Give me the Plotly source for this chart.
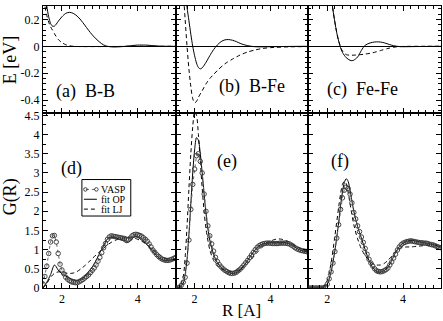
import numpy as np
import plotly.graph_objects as go
from plotly.subplots import make_subplots

# ---------------- data ----------------
# Top row: pair potentials E(R)
a_op_R = [1.5, 1.55, 1.6, 1.65, 1.7, 1.75, 1.8, 1.85, 1.9, 2.0, 2.1, 2.2, 2.3, 2.4, 2.5, 2.6, 2.7, 2.8, 2.9, 3.0, 3.1, 3.2, 3.3, 3.4, 3.6, 3.8, 4.0, 4.2, 4.4, 4.6, 4.8, 5.0]
a_op_E = [0.7, 0.45, 0.3, 0.22, 0.17, 0.15, 0.15, 0.165, 0.185, 0.22, 0.245, 0.253, 0.245, 0.225, 0.195, 0.158, 0.12, 0.085, 0.055, 0.03, 0.01, 0.0, -0.004, -0.005, -0.002, 0.004, 0.009, 0.009, 0.005, 0.001, 0.0, 0.0]
a_lj_R = [1.5, 1.55, 1.6, 1.65, 1.7, 1.75, 1.8, 1.85, 1.9, 2.0, 2.1, 2.2, 2.3, 2.5, 3.0, 3.5, 4.0, 5.0]
a_lj_E = [0.45, 0.3, 0.23, 0.18, 0.145, 0.12, 0.095, 0.072, 0.052, 0.027, 0.012, 0.004, 0.0, -0.002, -0.002, -0.001, 0.0, 0.0]

b_op_R = [1.5, 1.6, 1.7, 1.75, 1.8, 1.85, 1.9, 1.95, 2.0, 2.05, 2.1, 2.15, 2.2, 2.3, 2.4, 2.5, 2.6, 2.7, 2.8, 2.9, 3.0, 3.1, 3.2, 3.3, 3.4, 3.5, 3.6, 3.8, 4.0, 4.5, 5.0]
b_op_E = [1.6, 1.1, 0.6, 0.43, 0.29, 0.19, 0.09, 0.0, -0.07, -0.125, -0.158, -0.168, -0.16, -0.12, -0.07, -0.025, 0.01, 0.035, 0.048, 0.05, 0.045, 0.035, 0.022, 0.012, 0.005, 0.0, -0.003, -0.004, -0.003, -0.001, 0.0]
b_lj_R = [1.5, 1.6, 1.7, 1.75, 1.8, 1.85, 1.9, 1.95, 2.0, 2.05, 2.1, 2.2, 2.3, 2.4, 2.5, 2.6, 2.8, 3.0, 3.2, 3.4, 3.6, 3.8, 4.0, 4.5, 5.0]
b_lj_E = [1.6, 1.0, 0.42, 0.2, 0.0, -0.17, -0.3, -0.39, -0.42, -0.41, -0.38, -0.33, -0.28, -0.24, -0.21, -0.18, -0.13, -0.095, -0.065, -0.042, -0.027, -0.016, -0.01, -0.004, -0.002]

c_op_R = [1.5, 1.8, 2.0, 2.1, 2.15, 2.2, 2.25, 2.3, 2.35, 2.4, 2.5, 2.6, 2.65, 2.7, 2.8, 2.9, 3.0, 3.1, 3.2, 3.3, 3.4, 3.5, 3.6, 3.7, 3.8, 3.9, 4.0, 4.3, 4.6, 5.0]
c_op_E = [2.0, 1.2, 0.6, 0.37, 0.27, 0.18, 0.1, 0.04, -0.01, -0.045, -0.085, -0.104, -0.107, -0.103, -0.08, -0.03, 0.008, 0.022, 0.03, 0.033, 0.032, 0.026, 0.017, 0.008, 0.002, -0.002, -0.003, -0.002, -0.001, 0.0]
c_lj_R = [1.5, 1.8, 2.0, 2.1, 2.2, 2.3, 2.4, 2.5, 2.6, 2.7, 2.8, 3.0, 3.2, 3.4, 3.6, 3.8, 4.0, 4.5, 5.0]
c_lj_E = [2.0, 1.2, 0.6, 0.37, 0.18, 0.04, -0.035, -0.062, -0.066, -0.066, -0.064, -0.058, -0.048, -0.032, -0.016, -0.005, -0.001, 0.0, 0.0]

# Bottom row: pair correlation G(R)
vasp_R = list(np.round(np.arange(1.5, 5.001, 0.05), 2))
d_vasp = [0.10, 0.30, 0.57, 0.90, 1.20, 1.36, 1.37, 1.20, 0.90, 0.62,
          0.47, 0.37, 0.28, 0.23, 0.19, 0.16, 0.15, 0.14, 0.14, 0.16,
          0.19, 0.22, 0.26, 0.30, 0.34, 0.40, 0.46, 0.52, 0.60, 0.70,
          0.80, 0.92, 1.05, 1.16, 1.27, 1.33, 1.36, 1.35, 1.34, 1.33,
          1.32, 1.31, 1.30, 1.29, 1.27, 1.26, 1.30, 1.36, 1.39, 1.40,
          1.39, 1.37, 1.35, 1.31, 1.27, 1.22, 1.15, 1.07, 0.99, 0.93,
          0.87, 0.82, 0.78, 0.75, 0.73, 0.72, 0.72, 0.73, 0.75, 0.77,
          0.80]
e_vasp = [0.00, 0.00, 0.02, 0.07, 0.15, 0.28, 0.65, 1.25, 2.05, 2.70,
          3.10, 3.45, 3.50, 3.30, 3.00, 2.45, 2.00, 1.62, 1.36, 1.15,
          0.96, 0.80, 0.69, 0.61, 0.55, 0.50, 0.46, 0.43, 0.40, 0.38,
          0.38, 0.39, 0.41, 0.45, 0.49, 0.54, 0.60, 0.66, 0.72, 0.79,
          0.86, 0.93, 1.00, 1.06, 1.10, 1.13, 1.15, 1.16, 1.17, 1.17,
          1.17, 1.16, 1.16, 1.16, 1.16, 1.17, 1.17, 1.17, 1.17, 1.16,
          1.15, 1.12, 1.09, 1.05, 1.02, 1.00, 0.98, 0.97, 0.96, 0.95,
          0.94]
f_vasp = [0.00, 0.00, 0.00, 0.00, 0.00, 0.00, 0.00, 0.00, 0.00, 0.03,
          0.10, 0.24, 0.42, 0.65, 0.95, 1.30, 1.65, 2.05, 2.35, 2.55,
          2.63, 2.59, 2.45, 2.22, 1.97, 1.80, 1.62, 1.47, 1.33, 1.19,
          1.03, 0.88, 0.75, 0.65, 0.57, 0.50, 0.45, 0.43, 0.42, 0.43,
          0.45, 0.48, 0.52, 0.60, 0.68, 0.78, 0.88, 0.99, 1.07, 1.13,
          1.17, 1.19, 1.21, 1.22, 1.23, 1.22, 1.21, 1.20, 1.19, 1.18,
          1.18, 1.17, 1.17, 1.16, 1.14, 1.13, 1.12, 1.10, 1.08, 1.06,
          1.05]

d_op_R = [1.5, 1.6, 1.7, 1.8, 1.85, 1.9, 2.0, 2.1, 2.2, 2.3, 2.4, 2.5, 2.6, 2.7, 2.8, 2.9, 3.0, 3.1, 3.2, 3.3, 3.4, 3.5, 3.6, 3.7, 3.8, 3.9, 4.0, 4.1, 4.2, 4.3, 4.4, 4.5, 4.6, 4.7, 4.8, 4.9, 5.0]
d_op_G = [0.0, 0.15, 0.35, 0.6, 0.55, 0.47, 0.37, 0.31, 0.26, 0.22, 0.2, 0.22, 0.3, 0.42, 0.55, 0.72, 0.92, 1.1, 1.28, 1.33, 1.31, 1.28, 1.24, 1.18, 1.22, 1.33, 1.32, 1.25, 1.17, 1.07, 0.95, 0.84, 0.76, 0.72, 0.72, 0.74, 0.77]
d_lj_R = [1.5, 1.6, 1.7, 1.8, 1.9, 2.0, 2.1, 2.2, 2.3, 2.4, 2.5, 2.6, 2.7, 2.8, 2.9, 3.0, 3.1, 3.2, 3.3, 3.4, 3.5, 3.6, 3.7, 3.8, 3.9, 4.0, 4.1, 4.2, 4.3, 4.4, 4.5, 4.6, 4.7, 4.8, 4.9, 5.0]
d_lj_G = [0.0, 0.12, 0.28, 0.38, 0.42, 0.41, 0.39, 0.38, 0.39, 0.43, 0.5, 0.58, 0.67, 0.77, 0.86, 0.95, 1.04, 1.12, 1.19, 1.24, 1.28, 1.3, 1.31, 1.31, 1.3, 1.27, 1.22, 1.16, 1.08, 1.0, 0.92, 0.85, 0.79, 0.75, 0.73, 0.72]

e_op_R = [1.5, 1.6, 1.7, 1.75, 1.8, 1.85, 1.9, 1.95, 2.0, 2.05, 2.1, 2.15, 2.2, 2.25, 2.3, 2.35, 2.4, 2.5, 2.6, 2.7, 2.8, 2.9, 3.0, 3.1, 3.2, 3.3, 3.4, 3.5, 3.6, 3.7, 3.8, 3.9, 4.0, 4.2, 4.4, 4.5, 4.6, 4.7, 4.8, 4.9, 5.0]
e_op_G = [0.0, 0.01, 0.12, 0.35, 0.75, 1.4, 2.2, 3.0, 3.6, 3.92, 3.85, 3.5, 3.0, 2.45, 1.95, 1.55, 1.25, 0.88, 0.66, 0.53, 0.45, 0.4, 0.38, 0.4, 0.47, 0.58, 0.72, 0.87, 1.0, 1.1, 1.15, 1.17, 1.18, 1.18, 1.18, 1.16, 1.1, 1.03, 0.98, 0.96, 0.94]
e_lj_R = [1.5, 1.6, 1.7, 1.75, 1.8, 1.85, 1.9, 1.95, 2.0, 2.05, 2.1, 2.15, 2.2, 2.25, 2.3, 2.4, 2.5, 2.6, 2.7, 2.8, 2.9, 3.0, 3.1, 3.2, 3.3, 3.4, 3.5, 3.6, 3.7, 3.8, 3.9, 4.0, 4.1, 4.2, 4.3, 4.4, 4.5, 4.6, 4.7, 4.8, 4.9, 5.0]
e_lj_G = [0.0, 0.02, 0.3, 0.8, 1.6, 2.6, 3.5, 4.2, 4.6, 4.5, 4.0, 3.3, 2.6, 2.0, 1.55, 1.0, 0.72, 0.57, 0.5, 0.46, 0.44, 0.44, 0.46, 0.5, 0.56, 0.65, 0.75, 0.87, 0.98, 1.08, 1.16, 1.22, 1.26, 1.28, 1.27, 1.24, 1.2, 1.14, 1.08, 1.03, 0.99, 0.97]

f_op_R = [1.5, 1.8, 1.9, 2.0, 2.1, 2.2, 2.3, 2.35, 2.4, 2.45, 2.5, 2.55, 2.6, 2.7, 2.8, 2.9, 3.0, 3.1, 3.2, 3.3, 3.4, 3.5, 3.6, 3.7, 3.8, 3.9, 4.0, 4.1, 4.2, 4.3, 4.4, 4.5, 4.6, 4.7, 4.8, 4.9, 5.0]
f_op_G = [0.0, 0.0, 0.01, 0.1, 0.42, 0.98, 1.7, 2.15, 2.5, 2.75, 2.85, 2.78, 2.55, 2.0, 1.6, 1.3, 1.0, 0.72, 0.53, 0.43, 0.41, 0.45, 0.55, 0.72, 0.92, 1.08, 1.17, 1.22, 1.24, 1.23, 1.21, 1.19, 1.17, 1.15, 1.12, 1.09, 1.06]
f_lj_R = [1.5, 1.8, 1.9, 2.0, 2.1, 2.2, 2.3, 2.35, 2.4, 2.45, 2.5, 2.55, 2.6, 2.7, 2.8, 2.9, 3.0, 3.1, 3.2, 3.3, 3.4, 3.5, 3.6, 3.7, 3.8, 3.9, 4.0, 4.1, 4.2, 4.3, 4.4, 4.5, 4.6, 4.7, 4.8, 4.9, 5.0]
f_lj_G = [0.0, 0.0, 0.03, 0.2, 0.65, 1.35, 2.1, 2.45, 2.7, 2.78, 2.72, 2.5, 2.2, 1.65, 1.28, 1.02, 0.84, 0.72, 0.64, 0.6, 0.6, 0.64, 0.72, 0.83, 0.95, 1.03, 1.06, 1.07, 1.07, 1.08, 1.09, 1.1, 1.11, 1.12, 1.12, 1.11, 1.1]

x_tickvals = [2, 3, 4, 5]
x_ticktext = ["2", "", "4", ""]
e_tickvals = [-0.4, -0.2, 0.0, 0.2]
e_ticktext = ["-0.4", "-0.2", "0", "0.2"]
g_tickvals = [0, 0.5, 1, 1.5, 2, 2.5, 3, 3.5, 4, 4.5]
g_ticktext = ["0", "0.5", "1", "1.5", "2", "2.5", "3", "3.5", "4", "4.5"]

panel_labels = ["(a)\u00a0\u00a0B-B", "(b)\u00a0\u00a0B-Fe", "(c)\u00a0\u00a0Fe-Fe", "(d)", "(e)", "(f)"]
legend_names = ["VASP", "fit OP", "fit LJ"]

# ---------------- figure ----------------
W, H = 443, 321
ML, MR, MT, MB = 43, 1, 2, 33
PW, PH = W - ML - MR, H - MT - MB


def px(x):
    return (x - ML) / PW


def py(y):
    return (MT + PH - y) / PH


fig = make_subplots(rows=2, cols=3, row_heights=[109, 177],
                    horizontal_spacing=0, vertical_spacing=0)

FONT = "Liberation Serif, Times New Roman, DejaVu Serif, serif"
solid = dict(color="black", width=1)
dashed = dict(color="black", width=1, dash="4px,3px")

top = [(a_op_R, a_op_E, a_lj_R, a_lj_E), (b_op_R, b_op_E, b_lj_R, b_lj_E), (c_op_R, c_op_E, c_lj_R, c_lj_E)]
for i, (r1, e1, r2, e2) in enumerate(top):
    fig.add_trace(go.Scatter(x=r2, y=e2, mode="lines", line=dict(shape="spline", smoothing=0.8, **dashed),
                             showlegend=False, hoverinfo="skip"), row=1, col=i + 1)
    fig.add_trace(go.Scatter(x=r1, y=e1, mode="lines", line=dict(shape="spline", smoothing=0.8, **solid),
                             showlegend=False, hoverinfo="skip"), row=1, col=i + 1)

bottom = [(d_vasp, d_op_R, d_op_G, d_lj_R, d_lj_G), (e_vasp, e_op_R, e_op_G, e_lj_R, e_lj_G),
          (f_vasp, f_op_R, f_op_G, f_lj_R, f_lj_G)]
for i, (gv, r1, g1, r2, g2) in enumerate(bottom):
    fig.add_trace(go.Scatter(x=r2, y=g2, mode="lines", line=dict(shape="spline", smoothing=0.8, **dashed),
                             name=legend_names[2], showlegend=False, hoverinfo="skip"), row=2, col=i + 1)
    fig.add_trace(go.Scatter(x=r1, y=g1, mode="lines", line=dict(shape="spline", smoothing=0.8, **solid),
                             name=legend_names[1], showlegend=False, hoverinfo="skip"), row=2, col=i + 1)
    fig.add_trace(go.Scatter(x=vasp_R, y=gv, mode="lines+markers",
                             line=dict(color="#666", width=1, dash="dot"),
                             marker=dict(symbol="circle-open", size=4.5, color="#333", line=dict(width=0.9)),
                             name=legend_names[0], showlegend=False, hoverinfo="skip"), row=2, col=i + 1)

axis_common = dict(showline=True, linecolor="black", linewidth=1, mirror="allticks",
                   ticks="inside", ticklen=5, tickcolor="black", showgrid=False, zeroline=False,
                   tickfont=dict(family=FONT, size=12, color="black"))

for i in range(1, 7):
    row = 1 if i <= 3 else 2
    fig.update_xaxes(range=[1.5, 5.0], tickmode="array", tickvals=x_tickvals, ticktext=x_ticktext,
                     showticklabels=(row == 2),
                     minor=dict(ticks="inside", ticklen=3, tickcolor="black", dtick=0.2, tick0=0),
                     **axis_common, row=row, col=(i - 1) % 3 + 1)
for c in range(1, 4):
    fig.update_yaxes(range=[-0.5, 0.3], tickmode="array", tickvals=e_tickvals, ticktext=e_ticktext,
                     showticklabels=(c == 1),
                     minor=dict(ticks="inside", ticklen=3, tickcolor="black", dtick=0.04, tick0=0),
                     **{**axis_common, "zeroline": True}, zerolinecolor="black", zerolinewidth=1,
                     row=1, col=c)
    fig.update_yaxes(range=[0, 4.55], tickmode="array", tickvals=g_tickvals, ticktext=g_ticktext,
                     showticklabels=(c == 1),
                     minor=dict(ticks="inside", ticklen=3, tickcolor="black", dtick=0.25, tick0=0),
                     **axis_common, row=2, col=c)

ann = []
# axis titles
ann.append(dict(text="E [eV]", x=px(10), y=py(57), textangle=-90, font=dict(size=18)))
ann.append(dict(text="G(R)", x=px(10), y=py(196), textangle=-90, font=dict(size=18)))
ann.append(dict(text="R [A]", x=px(242), y=py(311), font=dict(size=17)))
# panel labels
label_pos = [(86, 89), (253, 84), (363, 87), (72, 167), (227, 160), (341, 160)]
for t, (lx, ly) in zip(panel_labels, label_pos):
    ann.append(dict(text=t, x=px(lx), y=py(ly), font=dict(size=18)))
# legend texts
leg_rows = [188, 198, 208]
for t, ly in zip(legend_names, leg_rows):
    ann.append(dict(text=t, x=px(99), y=py(ly), xanchor="left", font=dict(size=10)))

for a in ann:
    a.update(xref="paper", yref="paper", showarrow=False)
    a.setdefault("xanchor", "center")
    a["yanchor"] = "middle"
    a["font"] = dict(family=FONT, color="black", size=a["font"]["size"])
fig.update_layout(annotations=ann)

shapes = []
shapes.append(dict(type="rect", x0=px(82), x1=px(131), y0=py(215), y1=py(178),
                   line=dict(color="black", width=1), fillcolor="white", layer="above"))
shapes.append(dict(type="line", x0=px(86), x1=px(96), y0=py(188), y1=py(188),
                   line=dict(color="#666", width=1, dash="dot")))
for cx in (85.5, 96.5):
    shapes.append(dict(type="circle", x0=px(cx - 1.8), x1=px(cx + 1.8), y0=py(188 + 1.8), y1=py(188 - 1.8),
                       line=dict(color="#333", width=0.9)))
shapes.append(dict(type="line", x0=px(84), x1=px(97), y0=py(198), y1=py(198), line=solid))
shapes.append(dict(type="line", x0=px(84), x1=px(97), y0=py(208), y1=py(208), line=dashed))
for s in shapes:
    s.update(xref="paper", yref="paper")
    s.setdefault("layer", "above")
fig.update_layout(shapes=shapes)

fig.update_layout(width=W, height=H, margin=dict(l=ML, r=MR, t=MT, b=MB),
                  paper_bgcolor="white", plot_bgcolor="white", showlegend=False,
                  hovermode=False,
                  font=dict(family=FONT, color="black"))

fig.write_html("out.html", config={"displayModeBar": False},
               post_script="document.body.style.margin='0px';document.body.style.overflow='hidden';")
